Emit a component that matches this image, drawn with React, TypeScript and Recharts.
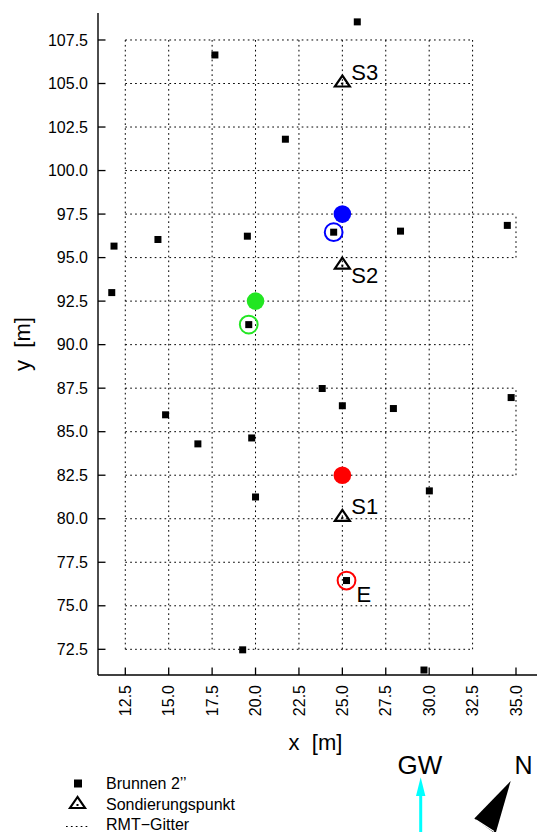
import { ScatterChart, Scatter, XAxis, YAxis, ReferenceLine } from "recharts";

// Brunnen 2'' (x, y in m)
const wellX = [11.85, 14.38, 17.66, 19.53, 25.86, 21.72, 24.5, 28.35, 34.5, 11.72, 19.61, 14.82, 16.68, 19.78, 20.0, 23.84, 25.0, 27.94, 34.72, 30.01, 25.24, 29.7, 19.26];
const wellY = [95.66, 96.04, 106.64, 96.23, 108.54, 101.8, 96.46, 96.52, 96.85, 92.99, 91.15, 85.97, 84.3, 84.64, 81.25, 87.48, 86.49, 86.33, 86.96, 81.6, 76.45, 71.31, 72.47];

// Sondierungspunkte
const probeNames = ["S3", "S2", "S1"];
const probeX = [25.0, 25.0, 25.0];
const probeY = [105.0, 94.54, 80.05];

// marked pairs: filled point + ring around a well
const markColors = ["#0000ff", "#22e622", "#ff0000"];
const filledX = [25.0, 20.0, 25.0];
const filledY = [97.5, 92.5, 82.5];
const ringX = [24.5, 19.61, 25.24];
const ringY = [96.46, 91.15, 76.45];
const ringNames = ["", "", "E"];

// RMT-Gitter
const gridX = [12.5, 15.0, 17.5, 20.0, 22.5, 25.0, 27.5, 30.0, 32.5];
const gridY = [72.5, 75.0, 77.5, 80.0, 82.5, 85.0, 87.5, 90.0, 92.5, 95.0, 97.5, 100.0, 102.5, 105.0, 107.5];
const extX = 35.0;
const extCols = [[95.0, 97.5], [82.5, 87.5]];
const extY = [82.5, 85.0, 87.5, 95.0, 97.5];

const xTicks = [12.5, 15.0, 17.5, 20.0, 22.5, 25.0, 27.5, 30.0, 32.5, 35.0];
const yTicks = [72.5, 75.0, 77.5, 80.0, 82.5, 85.0, 87.5, 90.0, 92.5, 95.0, 97.5, 100.0, 102.5, 105.0, 107.5];

const xDomain = [10.928, 36.44];
const yDomain = [71.024, 109.05];

const FONT = "'Liberation Sans', Arial, Helvetica, sans-serif";

const wells = wellX.map((x, i) => ({ x, y: wellY[i] }));
const probes = probeX.map((x, i) => ({ x, y: probeY[i], name: probeNames[i] }));
const filled = filledX.map((x, i) => ({ x, y: filledY[i], color: markColors[i] }));
const rings = ringX.map((x, i) => ({ x, y: ringY[i], color: markColors[i], name: ringNames[i] }));

const gridLo = gridY[0];
const gridHi = gridY[gridY.length - 1];
const gridL = gridX[0];
const gridR = gridX[gridX.length - 1];
const segments = [
  ...gridX.map((x) => [{ x, y: gridLo }, { x, y: gridHi }]),
  ...extCols.map(([a, b]) => [{ x: extX, y: a }, { x: extX, y: b }]),
  ...gridY.map((y) => [{ x: gridL, y }, { x: gridR, y }]),
  ...extY.map((y) => [{ x: gridR, y }, { x: extX, y }]),
];

const labelOffset: Record<string, [number, number]> = {
  S3: [9, -4],
  S2: [9, 17.5],
  S1: [9, -4],
  E: [10, 21],
};

const Square = (p: any) => (
  <rect x={p.cx - 3.5} y={p.cy - 3.5} width={7} height={7} fill="#000" />
);

const triPoints = (cx: number, cy: number) =>
  `${cx},${cy - 8} ${cx - 7.5},${cy + 3} ${cx + 7.5},${cy + 3}`;

const Probe = (p: any) => {
  const off = labelOffset[p.payload.name] || [0, 0];
  return (
    <g>
      <polygon points={triPoints(p.cx, p.cy)} fill="none" stroke="#000" strokeWidth={2.2} />
      <rect x={p.cx - 1} y={p.cy - 1} width={2} height={2} fill="#000" />
      <text x={p.cx + off[0]} y={p.cy + off[1]} fontSize={22} fontFamily={FONT} fill="#000">
        {p.payload.name}
      </text>
    </g>
  );
};

const Dot = (p: any) => <circle cx={p.cx} cy={p.cy} r={8.8} fill={p.payload.color} />;

const Ring = (p: any) => {
  const off = labelOffset[p.payload.name];
  return (
    <g>
      <circle cx={p.cx} cy={p.cy} r={8.9} fill="none" stroke={p.payload.color} strokeWidth={2} />
      {off && (
        <text x={p.cx + off[0]} y={p.cy + off[1]} fontSize={22} fontFamily={FONT} fill="#000">
          {p.payload.name}
        </text>
      )}
    </g>
  );
};

const TICK = 7.5;

const BottomTick = (p: any) => (
  <g>
    <line x1={p.x} y1={p.y} x2={p.x} y2={p.y - TICK} stroke="#000" strokeWidth={1.3} />
    <text
      x={p.x}
      y={p.y + 10}
      dy="0.35em"
      textAnchor="end"
      transform={`rotate(-90 ${p.x} ${p.y + 10})`}
      fontSize={16}
      fontFamily={FONT}
      fill="#000"
    >
      {Number(p.payload.value).toFixed(1)}
    </text>
  </g>
);

const LeftTick = (p: any) => (
  <g>
    <line x1={p.x} y1={p.y} x2={p.x + TICK} y2={p.y} stroke="#000" strokeWidth={1.3} />
    <text x={p.x - 10} y={p.y} dy="0.35em" textAnchor="end" fontSize={16} fontFamily={FONT} fill="#000">
      {Number(p.payload.value).toFixed(1)}
    </text>
  </g>
);

const TopTick = (p: any) => (
  <line x1={p.x} y1={p.y} x2={p.x} y2={p.y + TICK} stroke="#000" strokeWidth={1.3} />
);

const RightTick = (p: any) => (
  <line x1={p.x} y1={p.y} x2={p.x - TICK} y2={p.y} stroke="#000" strokeWidth={1.3} />
);

const frame = { stroke: "#000", strokeWidth: 1.4 };
const dotted = "1.7 3.2";

export default function App() {
  return (
    <div
      style={{
        position: "absolute",
        left: 0,
        top: 0,
        width: 537,
        height: 832,
        overflow: "hidden",
        background: "#fff",
      }}
    >
      <ScatterChart width={545} height={832} margin={{ top: 13, right: 4, bottom: 107, left: 0 }}>
        <XAxis
          type="number"
          dataKey="x"
          domain={xDomain}
          ticks={xTicks}
          interval={0}
          allowDataOverflow
          height={50}
          tickSize={0}
          tickMargin={0}
          tickLine={false}
          axisLine={frame}
          tick={BottomTick}
        />
        <XAxis
          xAxisId="top"
          orientation="top"
          type="number"
          dataKey="x"
          domain={xDomain}
          ticks={xTicks}
          interval={0}
          allowDataOverflow
          height={0}
          tickSize={0}
          tickMargin={0}
          tickLine={false}
          axisLine={frame}
          tick={TopTick}
        />
        <YAxis
          type="number"
          dataKey="y"
          domain={yDomain}
          ticks={yTicks}
          interval={0}
          allowDataOverflow
          width={98}
          tickSize={0}
          tickMargin={0}
          tickLine={false}
          axisLine={frame}
          tick={LeftTick}
        />
        <YAxis
          yAxisId="right"
          orientation="right"
          type="number"
          dataKey="y"
          domain={yDomain}
          ticks={yTicks}
          interval={0}
          allowDataOverflow
          width={0}
          tickSize={0}
          tickMargin={0}
          tickLine={false}
          axisLine={frame}
          tick={RightTick}
        />
        <Scatter data={filled} shape={Dot} isAnimationActive={false} />
        {segments.map((seg, i) => (
          <ReferenceLine
            key={i}
            segment={seg}
            stroke="#000"
            strokeWidth={1}
            strokeDasharray={dotted}
          />
        ))}
        <Scatter data={wells} shape={Square} isAnimationActive={false} />
        <Scatter data={rings} shape={Ring} isAnimationActive={false} />
        <Scatter data={probes} shape={Probe} isAnimationActive={false} />
      </ScatterChart>
      <svg
        width={537}
        height={832}
        style={{ position: "absolute", left: 0, top: 0, pointerEvents: "none" }}
        fontFamily={FONT}
      >
        <text x={30} y={344} textAnchor="middle" fontSize={22} transform="rotate(-90 30 344)" style={{ whiteSpace: "pre" }}>
          {"y  [m]"}
        </text>
        <text x={315.5} y={750} textAnchor="middle" fontSize={22} style={{ whiteSpace: "pre" }}>
          {"x  [m]"}
        </text>

        {/* legend */}
        <rect x={74} y={779.5} width={8} height={8} fill="#000" />
        <text x={106} y={788.5} fontSize={16}>Brunnen 2’’</text>
        <polygon points={triPoints(77.5, 805)} fill="none" stroke="#000" strokeWidth={2.2} />
        <rect x={76.5} y={804} width={2} height={2} fill="#000" />
        <text x={106} y={809.5} fontSize={16}>Sondierungspunkt</text>
        <line x1={66} y1={826.5} x2={88} y2={826.5} stroke="#000" strokeWidth={1} strokeDasharray={dotted} />
        <text x={106} y={830} fontSize={16}>RMT−Gitter</text>

        {/* groundwater flow */}
        <text x={420} y={774} textAnchor="middle" fontSize={26}>GW</text>
        <line x1={420.7} y1={832} x2={420.7} y2={792} stroke="#00ffff" strokeWidth={3} />
        <polygon points="420.7,777.3 416,796 425.4,796" fill="#00ffff" />

        {/* north arrow */}
        <text x={523.5} y={774} textAnchor="middle" fontSize={25}>N</text>
        <polygon points="510.7,781 474.3,818.5 493,832 496,832" fill="#000" />
        <line x1={476} y1={820} x2={494} y2={831.5} stroke="#fff" strokeWidth={1.2} />
      </svg>
    </div>
  );
}
